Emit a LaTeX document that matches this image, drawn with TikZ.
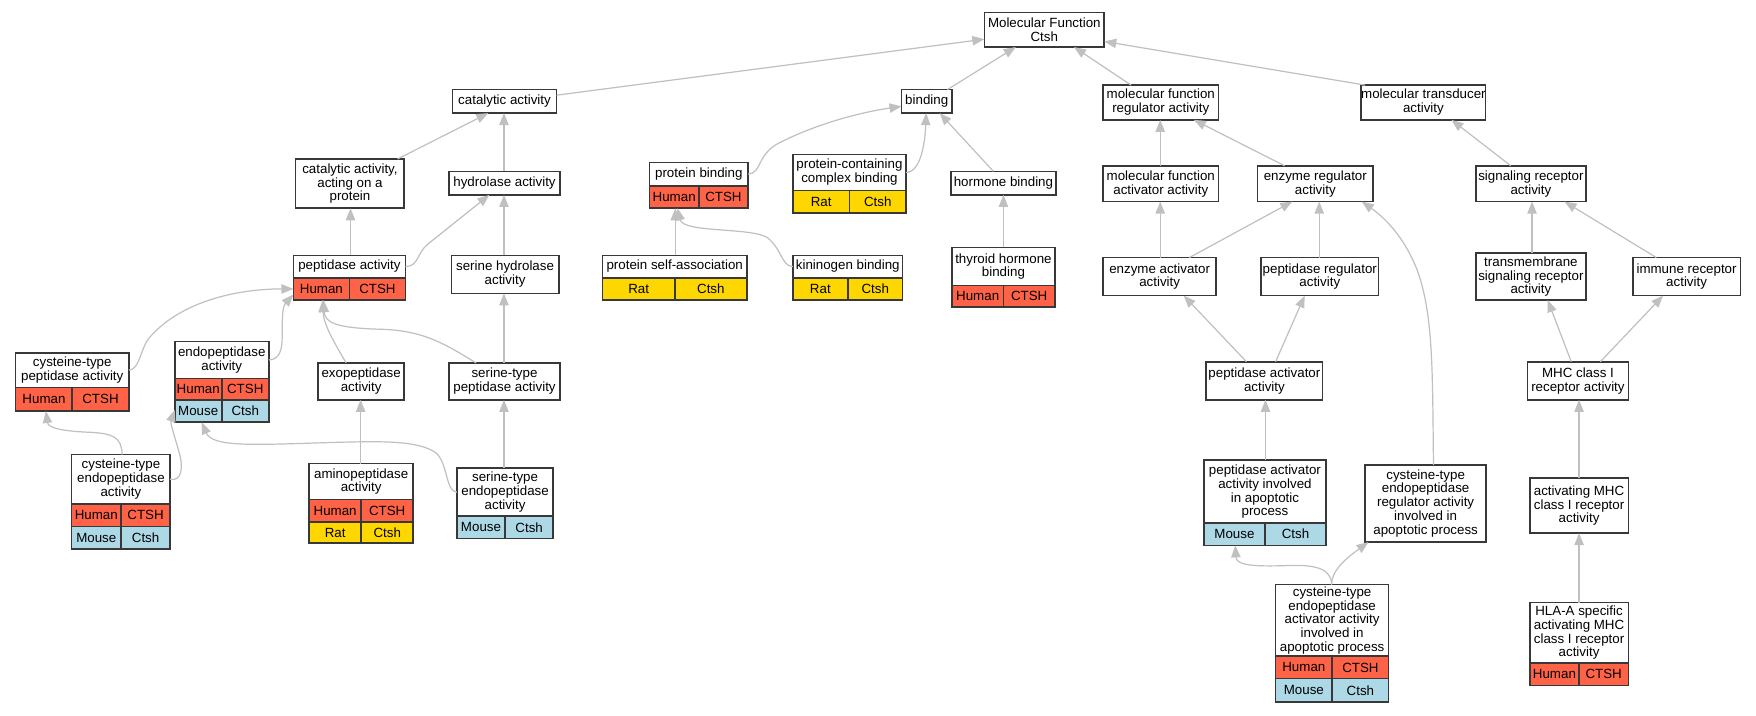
\documentclass[tikz,border=0pt]{standalone}
\usepackage{fontspec}
\setmainfont{Liberation Sans}
\usetikzlibrary{arrows.meta,calc}
\definecolor{hum}{HTML}{FF6347}
\definecolor{mou}{HTML}{ADD8E6}
\definecolor{rat}{HTML}{FFD700}
\definecolor{edgec}{HTML}{C0C0C0}
\definecolor{boxc}{HTML}{383838}
\def\gu{0.84pt}
\newcommand{\gofont}{\fontsize{10}{10.4}\selectfont}
\tikzset{
  outerbox/.style={rectangle, draw=none, inner sep=0pt, outer sep=0pt},
  titlebox/.style={rectangle, draw=boxc, line width=1.2pt, fill=white, inner sep=0pt, outer sep=0pt, align=center, font=\gofont},
  cellbox/.style={rectangle, draw=boxc, line width=1.2pt, inner sep=0pt, outer sep=0pt, align=center, font=\gofont},
  gedge/.style={draw=edgec, line width=0.9pt, -{Triangle[length=9pt,width=7pt]}}
}
% name, xl, xr, ytop, ytitlebottom, ybottom, text
\newcommand{\gobox}[7]{%
  \node[outerbox, minimum width={(#3-#2)*\gu}, minimum height={(#6-#4)*\gu}] (#1) at ({(#2+#3)/2},{(#4+#6)/2}) {};
  \node[titlebox, minimum width={(#3-#2)*\gu}, minimum height={(#5-#4)*\gu}] (#1-t) at ({(#2+#3)/2},{(#4+#5)/2}) {#7};
}
% name, xl, xr, ytop, ybottom, colour, species, gene
\newcommand{\gorow}[8]{%
  \node[cellbox, fill=#6, minimum width={(#3-#2)/2*\gu}, minimum height={(#5-#4)*\gu}] (#1a) at ({(3*#2+#3)/4},{(#4+#5)/2}) {#7};
  \node[cellbox, fill=#6, minimum width={(#3-#2)/2*\gu}, minimum height={(#5-#4)*\gu}] (#1b) at ({(#2+3*#3)/4},{(#4+#5)/2}) {#8};
}
\begin{document}
\begin{tikzpicture}[x=0.84pt,y=-0.84pt]
\useasboundingbox[fill=white] (0,0) rectangle (1568,638.5);

\gobox{mf}{879}{986}{11}{42}{42}{Molecular Function\\Ctsh}
\gobox{cat}{404}{497}{80}{101}{101}{catalytic activity}
\gobox{bind}{805}{850}{80}{101}{101}{binding}
\gobox{mfreg}{985}{1088}{76}{107}{107}{molecular function\\regulator activity}
\gobox{mtrans}{1219}{1323}{76}{107}{107}{molecular transducer\\activity}

\gobox{catprot}{264}{361}{142}{186}{186}{catalytic activity,\\acting on a\\protein}
\gobox{hydro}{401}{500}{153}{174}{174}{hydrolase activity}
\gobox{protb}{580}{668}{145}{166}{186}{protein binding}
\gorow{protb-r1}{580}{668}{166}{186}{hum}{Human}{CTSH}
\gobox{pcb}{708}{809}{138}{170}{190}{protein-containing\\complex binding}
\gorow{pcb-r1}{708}{809}{170}{190}{rat}{Rat}{Ctsh}
\gobox{hormb}{849}{943}{153}{174}{174}{hormone binding}
\gobox{mfact}{985}{1088}{148}{180}{180}{molecular function\\activator activity}
\gobox{enzreg}{1123}{1226}{148}{180}{180}{enzyme regulator\\activity}
\gobox{sigrec}{1318}{1416}{148}{180}{180}{signaling receptor\\activity}

\gobox{pep}{262}{362}{228}{248}{268}{peptidase activity}
\gorow{pep-r1}{262}{362}{248}{268}{hum}{Human}{CTSH}
\gobox{serhyd}{403}{499}{228}{262}{262}{serine hydrolase\\activity}
\gobox{psa}{538}{667}{228}{248}{268}{protein self-association}
\gorow{psa-r1}{538}{667}{248}{268}{rat}{Rat}{Ctsh}
\gobox{kin}{708}{806}{228}{248}{268}{kininogen binding}
\gorow{kin-r1}{708}{806}{248}{268}{rat}{Rat}{Ctsh}
\gobox{thyr}{850}{942}{221}{255}{274}{thyroid hormone\\binding}
\gorow{thyr-r1}{850}{942}{255}{274}{hum}{Human}{CTSH}
\gobox{enzact}{985}{1086}{230}{264}{264}{enzyme activator\\activity}
\gobox{pepreg}{1126}{1231}{230}{264}{264}{peptidase regulator\\activity}
\gobox{tmsig}{1318}{1416}{226}{268}{268}{transmembrane\\signaling receptor\\activity}
\gobox{immrec}{1458}{1554}{230}{264}{264}{immune receptor\\activity}

\gobox{cyspep}{14}{115}{315}{346}{367}{cysteine-type\\peptidase activity}
\gorow{cyspep-r1}{14}{115}{346}{367}{hum}{Human}{CTSH}
\gobox{endo}{156}{240}{305}{338}{377}{endopeptidase\\activity}
\gorow{endo-r1}{156}{240}{338}{357}{hum}{Human}{CTSH}
\gorow{endo-r2}{156}{240}{357}{377}{mou}{Mouse}{Ctsh}
\gobox{exo}{284}{361}{324}{357}{357}{exopeptidase\\activity}
\gobox{serpep}{401}{500}{324}{357}{357}{serine-type\\peptidase activity}
\gobox{pepact}{1077}{1181}{323}{357}{357}{peptidase activator\\activity}
\gobox{mhc}{1364}{1454}{323}{357}{357}{MHC class I\\receptor activity}

\gobox{cysendo}{64}{152}{406}{450}{490}{cysteine-type\\endopeptidase\\activity}
\gorow{cysendo-r1}{64}{152}{450}{470}{hum}{Human}{CTSH}
\gorow{cysendo-r2}{64}{152}{470}{490}{mou}{Mouse}{Ctsh}
\gobox{amino}{276}{369}{414}{446}{485}{aminopeptidase\\activity}
\gorow{amino-r1}{276}{369}{446}{466}{hum}{Human}{CTSH}
\gorow{amino-r2}{276}{369}{466}{485}{rat}{Rat}{Ctsh}
\gobox{serendo}{408}{494}{418}{461}{481}{serine-type\\endopeptidase\\activity}
\gorow{serendo-r1}{408}{494}{461}{481}{mou}{Mouse}{Ctsh}
\gobox{pepactapo}{1075}{1184}{411}{467}{487}{peptidase activator\\activity involved\\in apoptotic\\process}
\gorow{pepactapo-r1}{1075}{1184}{467}{487}{mou}{Mouse}{Ctsh}
\gobox{cysreg}{1219}{1327}{415}{484}{484}{cysteine-type\\endopeptidase\\regulator activity\\involved in\\apoptotic process}
\gobox{actmhc}{1366}{1454}{427}{476}{476}{activating MHC\\class I receptor\\activity}

\gobox{cysact}{1139}{1240}{522}{586}{627}{cysteine-type\\endopeptidase\\activator activity\\involved in\\apoptotic process}
\gorow{cysact-r1}{1139}{1240}{586}{606}{hum}{Human}{CTSH}
\gorow{cysact-r2}{1139}{1240}{606}{627}{mou}{Mouse}{Ctsh}
\gobox{hla}{1366}{1454}{538}{592}{612}{HLA-A specific\\activating MHC\\class I receptor\\activity}
\gorow{hla-r1}{1366}{1454}{592}{612}{hum}{Human}{CTSH}

% edges (child -> parent)
\draw[gedge] (cat.east |- 0,85) -- (mf.west |- 0,35);
\draw[gedge] (846,0 |- bind.north) -- (907,0 |- mf.south);
\draw[gedge] (1010,0 |- mfreg.north) -- (959,0 |- mf.south);
\draw[gedge] (mtrans.north west) -- (mf.east |- 0,37);

\draw[gedge] (355,0 |- catprot.north) -- (436,0 |- cat.south);
\draw[gedge] (450,0 |- hydro.north) -- (450,0 |- cat.south);
\draw[gedge] (313,0 |- pep.north) -- (313,0 |- catprot.south);
\draw[gedge] (pep-t.east) .. controls (374,238) and (372,226) .. (382,218) -- (437,0 |- hydro.south);
\draw[gedge] (450,0 |- serhyd.north) -- (450,0 |- hydro.south);

\draw[gedge] (protb-t.east) .. controls (680,155) and (676,138) .. (695,128) .. controls (730,110) and (770,100) .. (bind.west |- 0,95);
\draw[gedge] (pcb-t.east) .. controls (822,154) and (826,128) .. (827,0 |- bind.south);
\draw[gedge] (887,0 |- hormb.north) -- (839,0 |- bind.south);
\draw[gedge] (896,0 |- thyr.north) -- (896,0 |- hormb.south);
\draw[gedge] (603,0 |- psa.north) -- (603,0 |- protb.south);
\draw[gedge] (kin-t.west) .. controls (698,238) and (698,222) .. (685,212) .. controls (670,203) and (610,208) .. (605,0 |- protb.south);

\draw[gedge] (1036,0 |- mfact.north) -- (1036,0 |- mfreg.south);
\draw[gedge] (1147,0 |- enzreg.north) -- (1066,0 |- mfreg.south);
\draw[gedge] (1349,0 |- sigrec.north) -- (1296,0 |- mtrans.south);
\draw[gedge] (1036,0 |- enzact.north) -- (1036,0 |- mfact.south);
\draw[gedge] (1062,0 |- enzact.north) -- (1154,0 |- enzreg.south);
\draw[gedge] (1178,0 |- pepreg.north) -- (1178,0 |- enzreg.south);
\draw[gedge] (1280,0 |- cysreg.north) .. controls (1279,330) and (1280,280) .. (1265,240) .. controls (1255,215) and (1240,197) .. (1216,0 |- enzreg.south);
\draw[gedge] (1113,0 |- pepact.north) -- (1057,0 |- enzact.south);
\draw[gedge] (1139,0 |- pepact.north) -- (1165,0 |- pepreg.south);
\draw[gedge] (1130,0 |- pepactapo.north) -- (1130,0 |- pepact.south);
\draw[gedge] (1189,0 |- cysact.north) .. controls (1189,508) and (1175,504) .. (1150,505) .. controls (1120,506) and (1104,505) .. (1103,0 |- pepactapo.south);
\draw[gedge] (1189,0 |- cysact.north) .. controls (1189,510) and (1200,500) .. (1222,0 |- cysreg.south);
\draw[gedge] (1403,0 |- mhc.north) -- (1382,0 |- tmsig.south);
\draw[gedge] (1429,0 |- mhc.north) -- (1485,0 |- immrec.south);
\draw[gedge] (1368,0 |- tmsig.north) -- (1368,0 |- sigrec.south);
\draw[gedge] (1479,0 |- immrec.north) -- (1397,0 |- sigrec.south);
\draw[gedge] (1410,0 |- actmhc.north) -- (1410,0 |- mhc.south);
\draw[gedge] (1410,0 |- hla.north) -- (1410,0 |- actmhc.south);

\draw[gedge] (cyspep-t.east) .. controls (125,330) and (125,312) .. (133,302) .. controls (160,270) and (210,258) .. (pep.west |- 0,258);
\draw[gedge] (endo-t.east) .. controls (250,321) and (252,312) .. (252,300) .. controls (252,285) and (252,274) .. (pep.west |- 0,263);
\draw[gedge] (309,0 |- exo.north) .. controls (298,305) and (289,290) .. (288,0 |- pep.south);
\draw[gedge] (425,0 |- serpep.north) .. controls (400,309) and (380,295) .. (340,294) .. controls (300,293) and (290,288) .. (289,0 |- pep.south);
\draw[gedge] (450,0 |- serpep.north) -- (450,0 |- serhyd.south);
\draw[gedge] (450,0 |- serendo.north) -- (450,0 |- serpep.south);
\draw[gedge] (322,0 |- amino.north) -- (322,0 |- exo.south);
\draw[gedge] (109,0 |- cysendo.north) .. controls (109,390) and (100,387) .. (80,386) .. controls (55,385) and (43,382) .. (41,0 |- cyspep.south);
\draw[gedge] (cysendo-t.east) .. controls (162,430) and (164,418) .. (160,404) .. controls (156,390) and (152,378) .. (endo.west |- 0,366);
\draw[gedge] (serendo-t.west) .. controls (398,439) and (400,415) .. (390,405) .. controls (375,393) and (340,394) .. (300,395) .. controls (230,397) and (190,400) .. (180,0 |- endo.south);
\end{tikzpicture}
\end{document}
